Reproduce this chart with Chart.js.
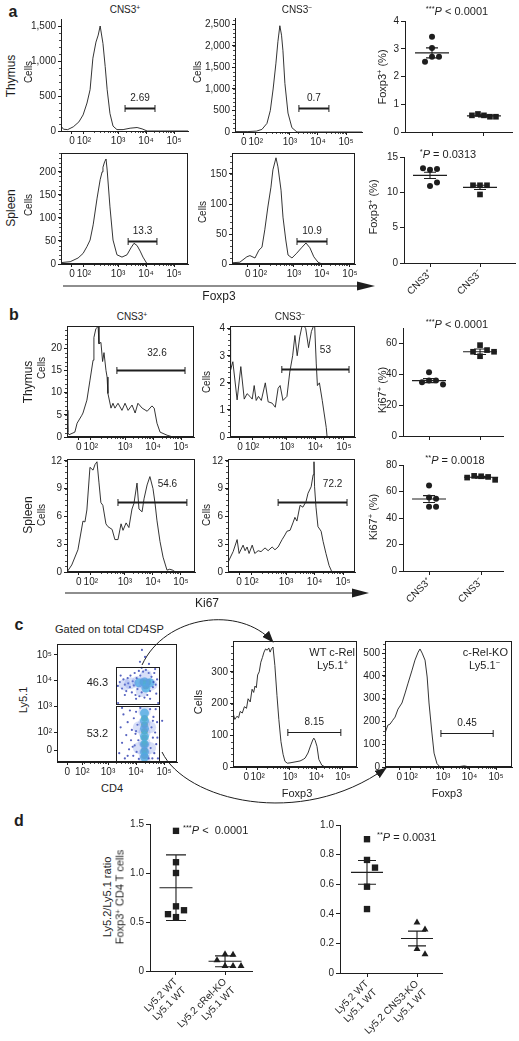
<!DOCTYPE html>
<html>
<head>
<meta charset="utf-8">
<title>CNS3 / c-Rel figure</title>
<script src="https://cdn.jsdelivr.net/npm/chart.js@4.4.1/dist/chart.umd.min.js"></script>
<style>
  body { margin: 0; background: #fff; }
  #fig { position: relative; width: 519px; height: 1041px; overflow: hidden; background: #fff;
         font-family: "Liberation Sans", Arial, sans-serif; color: #1e1e1e; }
  #fig canvas, #fig svg { position: absolute; }
  .t { position: absolute; white-space: nowrap; line-height: 1; }
  .t sup { font-size: 68%; vertical-align: 0.45em; line-height: 0; }
</style>
</head>
<body>
<div id="fig">
<svg width="519" height="1041" style="left:0;top:0">
  <defs>
    <marker id="head" markerUnits="userSpaceOnUse" markerWidth="12" markerHeight="9" refX="11" refY="4.5" orient="auto">
      <path d="M0,0 L12,4.5 L0,9 z" fill="#1e1e1e"/>
    </marker>
  </defs>
  <line x1="63" y1="286" x2="358" y2="286" stroke="#1e1e1e" stroke-width="1.1"/>
  <polygon points="357,281.5 375,286 357,290.5" fill="#1e1e1e"/>
  <line x1="65" y1="593" x2="353" y2="593" stroke="#1e1e1e" stroke-width="1.1"/>
  <polygon points="352,588.5 369,593 352,597.5" fill="#1e1e1e"/>
  <path d="M142,665 C165,615 240,605 273,642" fill="none" stroke="#1e1e1e" stroke-width="1" marker-end="url(#head)"/>
  <path d="M162,752 C185,800 300,830 386,768" fill="none" stroke="#1e1e1e" stroke-width="1" marker-end="url(#head)"/>
</svg>
</div>
<script>
const FONT = '"Liberation Sans", Arial, sans-serif';
const INK = '#1e1e1e';

// ===== DATA =====
// flow axes are in display decades (logicle-like): 0, 10^2 ... 10^5
const flowTicks = [1.35, 1.78, 3, 4, 5];
const flowLabels = ['0', '10²', '10³', '10⁴', '10⁵'];
const dotXTicks = [1.55, 2.08, 3, 4, 5];
const dotYTicks = [1.31, 2, 3, 4, 5];

// panel a, Foxp3 histograms
const aThyPlusX = [0.96,1.05,1.2,1.4,1.6,1.75,1.89,2.0,2.1,2.21,2.29,2.36,2.46,2.54,2.61,2.71,2.82,2.96,3.18,3.43,3.68,3.86,4.04,4.5,5.5];
const aThyPlusY = [70,25,20,60,130,230,400,590,1040,1270,1370,1500,1250,920,590,250,70,20,20,40,50,30,0,0,0];
const aThyMinusX = [1.04,1.5,1.8,2.0,2.18,2.3,2.4,2.5,2.57,2.64,2.7,2.75,2.82,2.93,3.07,3.25,4.0,5.57];
const aThyMinusY = [10,10,20,60,200,500,1000,1600,2100,2470,2250,1890,1130,440,100,0,0,0];
const aSplPlusX = [0.96,1.29,1.57,1.75,1.89,2.0,2.11,2.25,2.36,2.43,2.46,2.52,2.57,2.61,2.71,2.82,2.96,3.14,3.32,3.46,3.57,3.68,3.79,3.89,4.04,5.5];
const aSplPlusY = [3,5,13,23,38,52,85,143,183,200,210,222,228,204,124,52,20,15,20,35,45,40,28,15,0,0];
const aSplMinusX = [0.79,1.07,1.32,1.43,1.61,1.75,1.86,1.96,2.07,2.18,2.25,2.36,2.43,2.54,2.61,2.71,2.79,2.93,3.1,3.29,3.43,3.57,3.71,3.86,4.0,5.18];
const aSplMinusY = [2,3,12,14,10,23,28,57,95,128,157,177,162,123,78,40,15,10,18,28,35,27,12,3,0,0];
// gates: [from, to, level, % label]
const aThyPlusGate = [3.25, 4.32, 330, '2.69'];
const aThyMinusGate = [3.32, 4.39, 556, '0.7'];
const aSplPlusGate = [3.36, 4.39, 50, '13.3'];
const aSplMinusGate = [3.11, 4.18, 38, '10.9'];

// panel a, Foxp3+ (%) dot plots
const cnsCats = ['CNS3⁺', 'CNS3⁻'];
const thyFoxPlus = [3.43, 3.03, 2.71, 2.71, 2.53];
const thyFoxMinus = [0.60, 0.55, 0.65, 0.55, 0.60];
const thyFoxMean = [2.85, 0.58];
const thyFoxSem = [0.18, 0.04];
const splFoxPlus = [13.2, 13.3, 13.4, 10.9, 11.4];
const splFoxMinus = [11.0, 11.0, 11.0, 9.7];
const splFoxMean = [12.4, 10.7];
const splFoxSem = [0.45, 0.3];

// panel b, Ki67 histograms
const bThyPlusX = [0.93,0.96,1.0,1.21,1.29,1.46,1.5,1.64,1.75,1.86,1.89,1.96,2.04,2.07,2.14,2.2,2.25,2.32,2.36,2.39,2.5,2.57,2.64,2.75,2.89,3.0,3.11,3.25,3.36,3.46,3.61,3.79,3.96,4.04,4.14,4.25,4.5,4.71,5.46];
const bThyPlusY = [6,1.1,0.5,1.1,3.1,4.9,5.4,8.3,12.8,17.3,22.4,24.4,24.9,21,21.3,17,19,15,13.5,9.8,6.5,7.6,6.5,7.6,6,7.6,6,7.2,5.4,7.6,6.5,5.8,7,6.5,3.1,1.1,0.4,0,0];
const bThyMinusX = [1.0,1.02,1.1,1.25,1.38,1.5,1.6,1.7,1.78,1.85,1.92,2.0,2.1,2.24,2.34,2.48,2.59,2.69,2.76,2.86,3.0,3.1,3.2,3.28,3.36,3.45,3.55,3.66,3.76,3.86,3.97,4.03,4.07,4.14,4.24,4.31,4.38,4.41,5.39];
const bThyMinusY = [3.96,2.48,2.78,1.37,2.6,1.4,1.6,1.5,1.4,1.9,1.35,1.5,1.35,2.0,1.3,1.25,1.1,1.8,1.9,1.35,1.5,2.4,3.0,3.75,3.0,3.7,4.2,4.0,3.3,3.9,4.2,2.7,1.9,2.0,1.35,0.85,0.35,0,0];
const bSplPlusX = [0.93,1.1,1.32,1.5,1.57,1.64,1.75,1.86,1.93,2.0,2.07,2.14,2.21,2.32,2.39,2.54,2.64,2.75,2.86,2.93,3.04,3.14,3.25,3.32,3.43,3.5,3.61,3.68,3.79,3.89,4.0,4.07,4.14,4.25,4.36,4.5,4.6,4.7,4.8,5.5];
const bSplPlusY = [0,0.76,2.4,5.5,5.4,6.7,11.3,11.0,11.6,11.9,9.7,7.5,7.2,5.2,4.9,4.6,3.5,3.5,5.2,4.5,5.3,4.8,6.8,7.4,9.6,6.8,6.5,7.9,9.4,10.3,9.0,7.5,5.6,3.3,1.6,0.2,0.3,0.2,0,0];
const bSplMinusX = [0.96,1.0,1.14,1.28,1.35,1.49,1.56,1.63,1.7,1.81,1.9,2.02,2.12,2.26,2.37,2.51,2.61,2.72,2.86,2.96,3.03,3.14,3.24,3.31,3.38,3.49,3.59,3.7,3.77,3.88,3.95,3.98,4.0,4.05,4.12,4.23,4.3,4.4,4.51,4.61,5.42];
const bSplMinusY = [1.0,1.3,2.2,3.5,2.0,2.9,2.3,2.7,2.0,2.9,2.0,2.3,2.2,2.6,2.3,2.7,2.4,2.7,3.5,4.0,4.4,4.5,5.3,5.9,5.5,7.2,7.0,7.6,8.5,9.2,10.5,11.9,9.2,7.0,4.9,4.4,3.3,2.0,0.7,0,0];
const bThyPlusGate = [2.71, 5.14, 15.2, '32.6'];
const bThyMinusGate = [2.82, 5.18, 2.52, '53'];
const bSplPlusGate = [2.75, 5.21, 7.58, '54.6'];
const bSplMinusGate = [2.72, 5.14, 7.58, '72.2'];

// panel b, Ki67+ (%) dot plots
const thyKiPlus = [41.3, 35.9, 35.9, 34.8, 33.3];
const thyKiMinus = [58.9, 55.7, 54.6, 51.7, 54.6];
const thyKiMean = [35.9, 54.6];
const thyKiSem = [1.3, 1.8];
const splKiPlus = [64.5, 55.5, 54.5, 48.5, 48.5];
const splKiMinus = [71.5, 71.0, 71.8, 68.8, 70.5];
const splKiMean = [54.3, 70.7];
const splKiSem = [2.6, 0.7];

// panel c, Ly5.1 vs CD4 events, grouped by local density
const cdSpeckX = [3.35,3.42,3.5,3.55,3.6,3.65,3.7,3.72,3.78,3.8,3.85,3.88,3.92,3.95,3.98,4.02,4.05,4.1,4.12,4.15,
                  4.2,4.25,4.3,4.35,4.4,4.45,4.5,4.55,4.6,4.62,4.65,4.7,4.72,4.75,4.5,4.0,3.6,3.45,4.68,4.2,
                  3.4,3.45,3.5,3.55,3.6,3.65,3.7,3.75,3.78,3.82,3.85,3.9,3.92,3.95,3.98,4.0,4.02,4.05,4.08,4.1,
                  4.5,4.52,4.55,4.58,4.6,4.62,4.65,4.68,4.7,4.72,4.75,4.78,4.0,3.88,4.6,3.7,4.45,4.15,3.5,4.76,
                  4.21,4.32,4.14,4.46,4.79,3.36,4.93];
const cdSpeckY = [3.8,3.95,3.7,4.05,3.85,3.6,4.1,3.9,3.75,4.2,3.55,3.98,3.82,4.3,3.45,4.1,3.68,4.38,3.4,4.2,
                  3.55,4.35,3.35,4.42,3.45,4.3,3.6,4.15,3.75,3.95,4.3,3.85,3.5,4.05,3.3,3.3,3.45,4.2,4.45,4.5,
                  1.2,2.2,1.6,2.7,1.0,1.9,2.4,1.35,2.85,1.7,2.1,1.1,2.55,1.5,1.95,2.8,1.25,2.3,1.7,0.98,
                  2.9,1.4,2.2,1.0,1.8,2.6,1.2,2.0,2.9,1.55,2.4,1.0,2.05,1.45,2.45,1.1,1.0,2.95,2.95,1.8,
                  5.19,4.92,4.73,4.65,3.14,3.14,2.45];
const cdHaloX = [3.8,4.05,4.3,4.55,4.2,4.35,3.6, 4.3,4.3,4.3,4.3,4.3,4.3,4.1,4.5,4.1,4.5];
const cdHaloY = [3.9,3.95,3.9,3.85,3.6,4.2,3.85, 2.8,2.4,2.0,1.6,1.2,0.95,2.2,2.2,1.4,1.4];
const cdCyanX = [4.1,4.3,4.5,4.35, 4.3,4.3,4.3,4.3,4.3,4.3,4.3];
const cdCyanY = [3.92,3.95,3.92,3.72, 2.75,2.45,2.15,1.85,1.55,1.25,1.05];
const cdGreenX = [4.25,4.42,4.35, 4.3,4.3,4.3,4.3,4.3,4.3,4.3];
const cdGreenY = [3.94,3.94,3.8, 2.55,2.3,2.05,1.8,1.55,1.3,1.1];
const cdYellowX = [4.3,4.42];
const cdYellowY = [3.94,3.92];
const cdRedX = [4.36];
const cdRedY = [3.96];
// gates: [x1, x2, y1, y2, % label, label x, label y]
const cdUpperGate = [3.29, 4.82, 3.1, 4.54, '46.3', 2.62, 3.9];
const cdLowerGate = [3.29, 4.82, 0.86, 3.02, '53.2', 2.62, 1.96];

// panel c, Foxp3 histograms of gated cells
const cWtX = [0.85,0.92,1.0,1.06,1.12,1.2,1.28,1.36,1.42,1.5,1.57,1.63,1.68,1.73,1.78,1.84,1.9,1.96,2.02,2.08,2.14,2.2,2.25,2.3,2.36,2.43,2.51,2.58,2.66,2.74,2.81,2.9,3.0,3.19,3.38,3.5,3.57,3.68,3.79,3.86,3.9,3.95,4.02,4.09,4.2,4.32,5.53];
const cWtY = [170,150,160,155,175,170,190,185,215,205,245,235,255,250,290,300,330,345,362,372,368,375,362,372,378,320,225,150,80,40,18,12,13,16,19,24,28,44,70,85,91,84,65,24,6,0,0];
const cKoX = [0.81,0.92,1.0,1.1,1.19,1.3,1.45,1.57,1.68,1.83,1.94,2.06,2.13,2.21,2.32,2.4,2.47,2.58,2.66,2.77,2.89,3.5,3.8,4.0,5.6];
const cKoY = [149,184,188,205,219,254,281,325,368,425,469,504,518,500,469,395,281,149,61,15,0,0,5,0,0];
const cWtGate = [2.92, 4.92, 110, '8.15'];
const cKoGate = [2.92, 4.89, 149, '0.45'];

// panel d, Ly5.2/Ly5.1 ratio
const relCats = [['Ly5.2 WT', 'Ly5.1 WT'], ['Ly5.2 cRel-KO', 'Ly5.1 WT']];
const relWt = [1.43, 1.11, 1.0, 0.66, 0.62, 0.55, 0.58];
const relKo = [0.17, 0.165, 0.11, 0.05, 0.05, 0.05];
const relMean = [0.85, 0.099];
const relSd = [0.335, 0.055];
const cnsKoCats = [['Ly5.2 WT', 'Ly5.1 WT'], ['Ly5.2 CNS3-KO', 'Ly5.1 WT']];
const cnsWt = [0.904, 0.764, 0.712, 0.583, 0.432];
const cnsKo = [0.341, 0.294, 0.163, 0.127];
const cnsMean = [0.68, 0.233];
const cnsSem = [0.08, 0.05];

// ===== helpers =====
const fig = document.getElementById('fig');

const minorDecades = [];
for (let m = 2; m < 10; m++) minorDecades.push(1.78 + 1.22 * Math.log10(m));
[3, 4].forEach(k => { for (let m = 2; m < 10; m++) minorDecades.push(k + Math.log10(m)); });

function canvasAt(x, y, w, h) {
  const c = document.createElement('canvas');
  c.width = w; c.height = h;
  c.style.left = x + 'px'; c.style.top = y + 'px';
  c.style.width = w + 'px'; c.style.height = h + 'px';
  fig.appendChild(c);
  return c;
}

function label(html, x, y, size, how = 'c') {
  const d = document.createElement('div');
  d.className = 't';
  d.innerHTML = html;
  d.style.fontSize = size + 'px';
  d.style.left = x + 'px';
  d.style.top = y + 'px';
  d.style.transform = {
    c: 'translate(-50%,-50%)',
    v: 'translate(-50%,-50%) rotate(-90deg)',
    l: 'translate(0,-50%)',
    r: 'translate(-100%,-50%)'
  }[how];
  fig.appendChild(d);
}

// simple beeswarm: spread points that would overlap
function swarm(vals, pxY, gap) {
  const placed = [];
  return vals.map(v => {
    const yp = v * pxY;
    for (let k = 0; k < 30; k++) {
      const off = k === 0 ? 0 : (k % 2 ? 1 : -1) * Math.ceil(k / 2) * gap;
      if (placed.every(p => Math.hypot(p.x - off, p.y - yp) >= gap)) {
        placed.push({ x: off, y: yp });
        return off;
      }
    }
    return 0;
  });
}

const deco = {
  id: 'deco',
  afterDatasetsDraw(chart, args, o) {
    const { ctx, chartArea: a } = chart;
    const sx = chart.scales.x, sy = chart.scales.y;
    ctx.save();
    ctx.strokeStyle = INK;
    ctx.fillStyle = INK;
    if (o.frame) {
      ctx.lineWidth = 1;
      ctx.strokeRect(a.left + 0.5, a.top + 0.5, a.right - a.left - 1, a.bottom - a.top - 1);
    }
    ctx.lineWidth = 0.8;
    (o.minorX || []).forEach(v => {
      const p = Math.round(sx.getPixelForValue(v)) + 0.5;
      if (p <= a.left || p >= a.right) return;
      ctx.beginPath(); ctx.moveTo(p, a.bottom); ctx.lineTo(p, a.bottom + 2); ctx.stroke();
    });
    (o.minorY || []).forEach(v => {
      const p = Math.round(sy.getPixelForValue(v)) + 0.5;
      if (p <= a.top || p >= a.bottom) return;
      ctx.beginPath(); ctx.moveTo(a.left, p); ctx.lineTo(a.left - 2, p); ctx.stroke();
    });
    if (o.gate) {
      const [g1, g2, gy, txt] = o.gate;
      const x1 = sx.getPixelForValue(g1), x2 = sx.getPixelForValue(g2), y = Math.round(sy.getPixelForValue(gy)) + 0.5;
      ctx.lineWidth = o.gateWidth || 2;
      ctx.beginPath(); ctx.moveTo(x1, y); ctx.lineTo(x2, y); ctx.stroke();
      ctx.lineWidth = 1;
      ctx.beginPath();
      ctx.moveTo(x1, y - 3.5); ctx.lineTo(x1, y + 3.5);
      ctx.moveTo(x2, y - 3.5); ctx.lineTo(x2, y + 3.5);
      ctx.stroke();
      ctx.font = `10px ${FONT}`;
      ctx.textAlign = 'center';
      ctx.textBaseline = 'bottom';
      ctx.fillText(txt, (x1 + x2) / 2 + (o.labelDx || 0), y - (o.labelDy || 5));
    }
    (o.rects || []).forEach(([x1, x2, y1, y2, txt, tx, ty]) => {
      const l = sx.getPixelForValue(x1), r = sx.getPixelForValue(x2);
      const t = sy.getPixelForValue(y2), b = sy.getPixelForValue(y1);
      ctx.lineWidth = 1;
      ctx.strokeRect(Math.round(l) + 0.5, Math.round(t) + 0.5, Math.round(r - l), Math.round(b - t));
      ctx.font = `11px ${FONT}`;
      ctx.textAlign = 'center';
      ctx.textBaseline = 'middle';
      ctx.fillText(txt, sx.getPixelForValue(tx), sy.getPixelForValue(ty));
    });
    (o.summary || []).forEach(([mean, err], i) => {
      const cx = sx.getPixelForValue(i);
      const ym = sy.getPixelForValue(mean), y1 = sy.getPixelForValue(mean + err), y2 = sy.getPixelForValue(mean - err);
      ctx.lineWidth = 1.1;
      ctx.beginPath();
      ctx.moveTo(cx - o.meanHalf, ym); ctx.lineTo(cx + o.meanHalf, ym);
      ctx.moveTo(cx, y1); ctx.lineTo(cx, y2);
      ctx.moveTo(cx - o.capHalf, y1); ctx.lineTo(cx + o.capHalf, y1);
      ctx.moveTo(cx - o.capHalf, y2); ctx.lineTo(cx + o.capHalf, y2);
      ctx.stroke();
    });
    ctx.restore();
  }
};
Chart.register(deco);

function axis(kind, range, vals, labels, size, extra = {}) {
  const horiz = kind === 'x';
  return {
    type: 'linear', position: horiz ? 'bottom' : 'left',
    min: range[0], max: range[1],
    afterBuildTicks: s => { s.ticks = vals.map(v => ({ value: v })); },
    afterFit: s => {
      if (horiz) s.height = size; else s.width = size;
      s.paddingLeft = s.paddingRight = s.paddingTop = s.paddingBottom = 0;
    },
    ticks: {
      display: extra.hideLabels ? false : true,
      autoSkip: false, maxRotation: extra.rot || 0, minRotation: extra.rot || 0,
      padding: horiz ? 1 : 2, color: INK, font: { family: FONT, size: 10 },
      callback: (v, i) => labels[i]
    },
    grid: { display: true, drawOnChartArea: false, drawTicks: true, tickLength: extra.tick || 3, color: INK, lineWidth: 1 },
    border: { display: true, color: INK, width: 1 }
  };
}

function baseOptions(pt, pr, plug) {
  return {
    responsive: false, animation: false, devicePixelRatio: 1,
    layout: { padding: { left: 0, top: pt, right: pr, bottom: 0 } },
    plugins: { legend: { display: false }, tooltip: { enabled: false }, deco: plug }
  };
}

// histogram on a flow axis; box = [left, top, right, bottom] of the plot area
function histogram(box, xr, yMax, yVals, xs, ys, plug) {
  const [l, t, r, b] = box;
  const yw = 36, xh = 16, pt = 4, pr = 8;
  const cv = canvasAt(l - yw, t - pt, r - l + yw + pr, b - t + xh + pt);
  const step = yVals[1] - yVals[0];
  const minorY = [];
  for (let v = step / 5; v < yMax; v += step / 5) minorY.push(v);
  const opts = baseOptions(pt, pr, Object.assign({ minorX: minorDecades, minorY }, plug));
  opts.scales = {
    x: axis('x', xr, flowTicks, flowLabels, xh),
    y: axis('y', [0, yMax], yVals, yVals.map(v => v.toLocaleString('en-US')), yw)
  };
  return new Chart(cv, {
    type: 'line',
    data: { datasets: [{ data: xs.map((x, i) => ({ x, y: ys[i] })), borderColor: INK, borderWidth: 0.9,
                         pointRadius: 0, tension: 0, fill: false, borderJoinStyle: 'round' }] },
    options: opts
  });
}

// group dot plot with mean and error bars
function groupPlot(box, xr, yr, yVals, yLabels, cats, groups, summary, look) {
  const [l, t, r, b] = box;
  const { yw = 24, xh = 8, pt = 5, pr = 6, rot = 0, meanHalf = 17, capHalf = 6, hideLabels = true } = look;
  const cv = canvasAt(l - yw, t - pt, r - l + yw + pr, b - t + xh + pt);
  const pxY = (b - t) / (yr[1] - yr[0]), pxX = (r - l) / (xr[1] - xr[0]);
  const datasets = groups.map((g, i) => {
    const offs = swarm(g.vals, pxY, g.gap);
    return {
      data: g.vals.map((v, k) => ({ x: i + offs[k] / pxX, y: v })),
      pointStyle: g.shape, pointRadius: g.size, pointBackgroundColor: INK, pointBorderColor: INK,
      pointBorderWidth: 0, showLine: false, clip: false
    };
  });
  const opts = baseOptions(pt, pr, { summary, meanHalf, capHalf });
  opts.scales = {
    x: axis('x', xr, [0, 1], cats, xh, { rot, hideLabels, tick: 4 }),
    y: axis('y', yr, yVals, yLabels, yw, { tick: 4 })
  };
  return new Chart(cv, { type: 'scatter', data: { datasets }, options: opts });
}

const zip = (a, b) => a.map((v, i) => [v, b[i]]);

// ===== panel a =====
histogram([61, 19, 188, 131], [0.96, 5.5], 1600, [0, 500, 1000, 1500], aThyPlusX, aThyPlusY,
  { gate: aThyPlusGate });
histogram([235, 17.5, 362, 132], [1.04, 5.57], 2650, [0, 500, 1000, 1500, 2000, 2500], aThyMinusX, aThyMinusY,
  { gate: aThyMinusGate });
histogram([61, 153, 188, 264], [0.96, 5.5], 241, [0, 50, 100, 150, 200], aSplPlusX, aSplPlusY,
  { gate: aSplPlusGate, frame: true });
histogram([232, 153, 355, 264], [0.79, 5.18], 185, [0, 50, 100, 150], aSplMinusX, aSplMinusY,
  { gate: aSplMinusGate, frame: true });

groupPlot([405, 21, 512, 132], [-0.52, 1.54], [0, 4], [0, 1, 2, 3, 4], ['0', '1', '2', '3', '4'], cnsCats,
  [{ vals: thyFoxPlus, shape: 'circle', size: 3, gap: 7 }, { vals: thyFoxMinus, shape: 'rect', size: 4, gap: 6 }],
  zip(thyFoxMean, thyFoxSem), {});
groupPlot([404, 157, 515, 263], [-0.52, 1.7], [0, 15], [0, 5, 10, 15], ['0', '5', '10', '15'], cnsCats,
  [{ vals: splFoxPlus, shape: 'circle', size: 3, gap: 7 }, { vals: splFoxMinus, shape: 'rect', size: 4, gap: 7 }],
  zip(splFoxMean, splFoxSem), { xh: 40, rot: 45, hideLabels: false });

// ===== panel b =====
histogram([67, 326, 194, 437], [0.93, 5.46], 25, [0, 5, 10, 15, 20], bThyPlusX, bThyPlusY,
  { gate: bThyPlusGate, frame: true, labelDx: 6, labelDy: 12 });
histogram([230, 326, 355, 437], [1.0, 5.39], 4.1, [0, 1, 2, 3, 4], bThyMinusX, bThyMinusY,
  { gate: bThyMinusGate, frame: true, labelDx: 10, labelDy: 14 });
histogram([67, 459, 195, 572], [0.93, 5.5], 12.2, [0, 3, 6, 9, 12], bSplPlusX, bSplPlusY,
  { gate: bSplPlusGate, frame: true, labelDx: 15, labelDy: 13 });
histogram([228, 459, 355, 572], [0.96, 5.42], 12.2, [0, 3, 6, 9, 12], bSplMinusX, bSplMinusY,
  { gate: bSplMinusGate, frame: true, labelDx: 20, labelDy: 13 });

groupPlot([403, 328, 503, 436], [-0.51, 1.45], [0, 70], [0, 20, 40, 60], ['0', '20', '40', '60'], cnsCats,
  [{ vals: thyKiPlus, shape: 'circle', size: 3, gap: 7 }, { vals: thyKiMinus, shape: 'rect', size: 4, gap: 7 }],
  zip(thyKiMean, thyKiSem), {});
groupPlot([403, 465, 503, 571], [-0.5, 1.42], [0, 80], [0, 20, 40, 60, 80], ['0', '20', '40', '60', '80'], cnsCats,
  [{ vals: splKiPlus, shape: 'circle', size: 3, gap: 7 }, { vals: splKiMinus, shape: 'rect', size: 4, gap: 7 }],
  zip(splKiMean, splKiSem), { xh: 40, rot: 45, hideLabels: false });

// ===== panel c =====
(function densityPlot() {
  const l = 57, t = 642, r = 177, b = 762, yw = 26, xh = 16, pt = 4, pr = 6;
  const cv = canvasAt(l - yw, t - pt, r - l + yw + pr, b - t + xh + pt);
  const layer = (xs, ys, color, rad) => ({
    data: xs.map((x, i) => ({ x, y: ys[i] })), pointRadius: rad, pointBackgroundColor: color,
    pointBorderWidth: 0, showLine: false
  });
  const opts = baseOptions(pt, pr, { frame: true, rects: [cdUpperGate, cdLowerGate], minorX: minorDecades });
  opts.scales = {
    x: axis('x', [1.18, 5.46], dotXTicks, flowLabels, xh),
    y: axis('y', [0.86, 5.42], dotYTicks, flowLabels, yw)
  };
  new Chart(cv, {
    type: 'scatter',
    data: { datasets: [
      layer(cdHaloX, cdHaloY, 'rgba(110,140,230,0.28)', 6),
      layer(cdSpeckX, cdSpeckY, 'rgba(30,45,170,0.75)', 1.1),
      layer(cdCyanX, cdCyanY, 'rgba(70,185,225,0.8)', 4.5),
      layer(cdGreenX, cdGreenY, 'rgba(80,190,90,0.95)', 3.3),
      layer(cdYellowX, cdYellowY, 'rgba(245,225,40,1)', 2.4),
      layer(cdRedX, cdRedY, 'rgba(230,50,30,1)', 1.7)
    ] },
    options: opts
  });
})();

histogram([233, 641, 357, 767], [0.85, 5.53], 397, [0, 100, 200, 300], cWtX, cWtY,
  { gate: cWtGate, frame: true, gateWidth: 1 });
histogram([385, 641, 512, 767], [0.81, 5.6], 553, [0, 100, 200, 300, 400, 500], cKoX, cKoY,
  { gate: cKoGate, frame: true, gateWidth: 1 });

// ===== panel d =====
groupPlot([150, 824, 252, 971], [-0.53, 1.55], [0, 1.5], [0, 0.5, 1, 1.5], ['0', '0.5', '1.0', '1.5'], relCats,
  [{ vals: relWt, shape: 'rect', size: 4.5, gap: 8 }, { vals: relKo, shape: 'triangle', size: 4, gap: 8 }],
  zip(relMean, relSd), { yw: 26, xh: 64, rot: 45, hideLabels: false, meanHalf: 16.5, capHalf: 10 });
groupPlot([340, 825, 442, 973], [-0.54, 1.5], [0, 1], [0, 0.2, 0.4, 0.6, 0.8, 1], ['0', '0.2', '0.4', '0.6', '0.8', '1.0'], cnsKoCats,
  [{ vals: cnsWt, shape: 'rect', size: 4.5, gap: 8 }, { vals: cnsKo, shape: 'triangle', size: 4, gap: 8 }],
  zip(cnsMean, cnsSem), { yw: 26, xh: 64, rot: 45, hideLabels: false, meanHalf: 16, capHalf: 9 });

// ===== text =====
label('<b>a</b>', 13, 12, 16);
label('CNS3<sup>+</sup>', 125, 10, 10);
label('CNS3<sup>−</sup>', 297, 10, 10);
label('Thymus', 11, 76, 12, 'v');
label('Cells', 29, 72, 10, 'v');
label('Cells', 198, 72, 10, 'v');
label('<sup>***</sup><i>P</i> &lt; 0.0001', 457, 11, 11);
label('Foxp3<sup>+</sup> (%)', 382, 77, 11, 'v');
label('Spleen', 11, 208, 12, 'v');
label('Cells', 29, 205, 10, 'v');
label('Cells', 203, 212, 10, 'v');
label('<sup>*</sup><i>P</i> = 0.0313', 448, 154, 11);
label('Foxp3<sup>+</sup> (%)', 373, 207, 11, 'v');
label('Foxp3', 219, 296, 12);

label('<b>b</b>', 14, 315, 16);
label('CNS3<sup>+</sup>', 132, 317, 10);
label('CNS3<sup>−</sup>', 290, 317, 10);
label('Thymus', 28, 382, 12, 'v');
label('Cells', 42, 368, 10, 'v');
label('Cells', 207, 382, 10, 'v');
label('<sup>***</sup><i>P</i> &lt; 0.0001', 457, 324, 11);
label('Ki67<sup>+</sup> (%)', 382, 390, 11, 'v');
label('Spleen', 28, 515, 12, 'v');
label('Cells', 42, 515, 10, 'v');
label('Cells', 207, 515, 10, 'v');
label('<sup>**</sup><i>P</i> = 0.0018', 455, 460, 11);
label('Ki67<sup>+</sup> (%)', 373, 517, 11, 'v');
label('Ki67', 207, 603, 12);

label('<b>c</b>', 19, 625, 16);
label('Gated on total CD4SP', 55, 629, 11, 'l');
label('Ly5.1', 23, 700, 11, 'v');
label('CD4', 112, 788, 11);
label('Cells', 198, 702, 11, 'v');
label('WT c-Rel', 355, 652, 11, 'r');
label('Ly5.1<sup>+</sup>', 348, 665, 11, 'r');
label('Foxp3', 297, 793, 11);
label('c-Rel-KO', 508, 652, 11, 'r');
label('Ly5.1<sup>−</sup>', 500, 665, 11, 'r');
label('Foxp3', 447, 793, 11);

label('<b>d</b>', 19, 821, 16);
label('<sup>***</sup><i>P</i> &lt;&nbsp; 0.0001', 183, 830, 11, 'l');
label('Ly5.2/Ly5.1 ratio', 107, 897, 11, 'v');
label('Foxp3<sup>+</sup> CD4 T cells', 120, 897, 11, 'v');
label('<sup>**</sup><i>P</i> = 0.0031', 377, 837, 11, 'l');
</script>
</body>
</html>
